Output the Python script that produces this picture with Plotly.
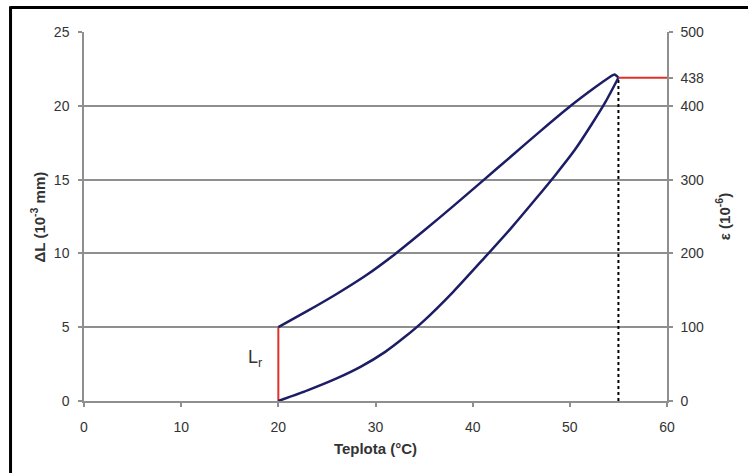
import plotly.graph_objects as go

# Thermal expansion loop: heating branch and cooling branch
t_heat = [20, 23, 26, 28.5, 31, 33, 35, 38, 41, 44, 46.5, 48.5, 50.5, 52.3, 53.7, 55]
dl_heat = [0, 0.72, 1.53, 2.33, 3.33, 4.33, 5.45, 7.4, 9.55, 11.75, 13.7, 15.3, 17.0, 18.8, 20.3, 21.9]

t_cool = [55, 54.6, 54, 52.5, 50, 47, 44, 41, 38, 35, 32, 29, 26, 23, 20]
dl_cool = [21.9, 22.12, 21.9, 21.2, 19.95, 18.3, 16.6, 14.9, 13.2, 11.55, 9.95, 8.5, 7.25, 6.1, 5]

# Residual elongation and peak strain markers
t_lr = [20, 20]
dl_lr = [0, 5]
t_peak = 55
eps_peak = 438
dl_peak = 21.9

x_ticks = [0, 10, 20, 30, 40, 50, 60]
y_ticks = [0, 5, 10, 15, 20, 25]
y2_ticks = [0, 100, 200, 300, 400, 438, 500]

FONT = "Liberation Sans, Arial, sans-serif"
NAVY = "#1d1d66"
RED = "#e0302a"
GRID = "#8f8f8f"
TXT = "#333333"

fig = go.Figure()

fig.add_trace(go.Scatter(x=t_lr, y=dl_lr, mode="lines",
                         line=dict(color=RED, width=2), showlegend=False))
fig.add_trace(go.Scatter(x=[t_peak, t_peak], y=[0, dl_peak], mode="lines",
                         line=dict(color="black", width=2, dash="dot"), showlegend=False))
fig.add_trace(go.Scatter(x=t_heat, y=dl_heat, mode="lines",
                         line=dict(color=NAVY, width=2.5, shape="spline", smoothing=0.6),
                         showlegend=False))
fig.add_trace(go.Scatter(x=t_cool, y=dl_cool, mode="lines",
                         line=dict(color=NAVY, width=2.5, shape="spline", smoothing=0.6),
                         showlegend=False))
fig.add_trace(go.Scatter(x=[t_peak, 60], y=[eps_peak, eps_peak], mode="lines",
                         line=dict(color=RED, width=2), yaxis="y2", showlegend=False))

fig.add_annotation(x=17.6, y=2.85, xref="x", yref="y", showarrow=False,
                   text="L<sub>r</sub>", font=dict(family=FONT, size=18, color=TXT))

tick_font = dict(family=FONT, size=14, color=TXT)
title_font = dict(family=FONT, size=15, color=TXT)

# Left axis title, placed closer to the tick labels
fig.add_annotation(x=-0.079, y=0.5, xref="paper", yref="paper", showarrow=False,
                   xanchor="center", yanchor="middle", textangle=-90,
                   text="<b>ΔL (10<sup>-3</sup> mm)</b>", font=title_font)

# Frame lines along the top and left edges of the page
fig.add_shape(type="line", xref="paper", yref="paper", x0=-0.126, x1=1.15,
              y0=1.0664, y1=1.0664, line=dict(color="black", width=3))
fig.add_shape(type="line", xref="paper", yref="paper", x0=-0.126, x1=-0.126,
              y0=1.07, y1=-0.2, line=dict(color="black", width=3))

axis_common = dict(showline=True, linecolor=GRID, linewidth=1.5, ticks="outside",
                   ticklen=4, tickcolor=GRID, tickwidth=1.5, tickfont=tick_font)

fig.update_layout(
    width=748, height=473,
    margin=dict(l=84, r=81, t=32, b=72),
    paper_bgcolor="white", plot_bgcolor="white",
    xaxis=dict(range=[0, 60], tickvals=x_ticks, showgrid=False, zeroline=False,
               ticklabelstandoff=8,
               title=dict(text="<b>Teplota (°C)</b>", font=title_font, standoff=10),
               **axis_common),
    yaxis=dict(range=[0, 25], tickvals=y_ticks, showgrid=True, gridcolor=GRID, gridwidth=1.5,
               zeroline=False, ticklabelstandoff=6, **axis_common),
    yaxis2=dict(range=[0, 500], tickvals=y2_ticks, overlaying="y", side="right",
                showgrid=False, zeroline=False, ticklabelstandoff=5,
                title=dict(text="<b>ε (10<sup>-6</sup>)</b>", font=title_font, standoff=16),
                **axis_common),
)

fig.write_html("out.html")
